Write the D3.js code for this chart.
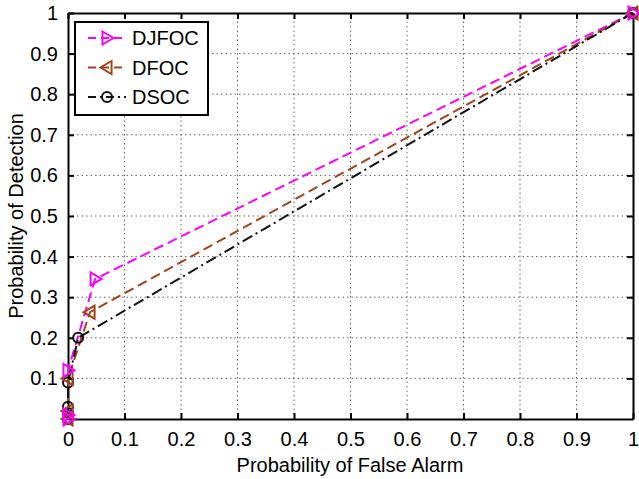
<!DOCTYPE html>
<html><head><meta charset="utf-8">
<script src="https://cdn.jsdelivr.net/npm/d3@7"></script>
<style>body{margin:0;background:#fff}svg{display:block}text{font-family:Arial,"Liberation Sans",sans-serif;fill:#000}</style>
</head><body>
<svg id="c" width="639" height="479"></svg>
<script>
const xTicks = [0,0.1,0.2,0.3,0.4,0.5,0.6,0.7,0.8,0.9,1];
const yTicks = [0.1,0.2,0.3,0.4,0.5,0.6,0.7,0.8,0.9,1];
const xTickLabels = ["0","0.1","0.2","0.3","0.4","0.5","0.6","0.7","0.8","0.9","1"];
const yTickLabels = ["0.1","0.2","0.3","0.4","0.5","0.6","0.7","0.8","0.9","1"];
const seriesNames = ["DJFOC","DFOC","DSOC"];
const djfocPf = [0, 0, 0, 0.048, 1];
const djfocPd = [0, 0.01, 0.12, 0.345, 1];
const dfocPf = [0, 0, 0, 0.039, 1];
const dfocPd = [0, 0.02, 0.1, 0.263, 1];
const dsocPf = [0, 0, 0, 0, 0.018, 1];
const dsocPd = [0, 0.015, 0.03, 0.09, 0.2, 1];

const W=639,H=479, m={l:68,r:6,t:13,b:60};
const svg=d3.select("#c");
const x=d3.scaleLinear().domain([0,1]).range([m.l,W-m.r]);
const y=d3.scaleLinear().domain([0,1]).range([H-m.b,m.t]);
const g=svg.append("g");

// grid
g.selectAll(".gx").data(xTicks.slice(1,-1)).join("line")
 .attr("x1",d=>x(d)).attr("x2",d=>x(d)).attr("y1",y(0)).attr("y2",y(1))
 .attr("stroke","#666").attr("stroke-width",1).attr("stroke-dasharray","1.5,3");
g.selectAll(".gy").data(yTicks.slice(0,-1)).join("line")
 .attr("y1",d=>y(d)).attr("y2",d=>y(d)).attr("x1",x(0)).attr("x2",x(1))
 .attr("stroke","#666").attr("stroke-width",1).attr("stroke-dasharray","1.5,3");

// axes
const fs=20;
const xa=d3.axisBottom(x).tickValues(xTicks).tickFormat((d,i)=>xTickLabels[i]).tickSizeInner(-6).tickSizeOuter(0).tickPadding(13);
const ya=d3.axisLeft(y).tickValues(yTicks).tickFormat((d,i)=>yTickLabels[i]).tickSizeInner(-6).tickSizeOuter(0).tickPadding(10);
const xa2=d3.axisTop(x).tickValues(xTicks).tickFormat("").tickSizeInner(-6).tickSizeOuter(0);
const ya2=d3.axisRight(y).tickValues(yTicks).tickFormat("").tickSizeInner(-6).tickSizeOuter(0);
function style(sel){sel.selectAll("path,line").attr("stroke","#000").attr("stroke-width",2);sel.selectAll("text").attr("font-size",fs).attr("font-family","Arial, 'Liberation Sans', sans-serif");}
g.append("g").attr("transform",`translate(0,${y(0)})`).call(xa).call(style);
g.append("g").attr("transform",`translate(${x(0)},0)`).call(ya).call(style);
g.append("g").attr("transform",`translate(0,${y(1)})`).call(xa2).call(style);
g.append("g").attr("transform",`translate(${x(1)},0)`).call(ya2).call(style);

svg.append("text").attr("x",350).attr("y",472).attr("text-anchor","middle").attr("font-size",fs).text("Probability of False Alarm");
svg.append("text").attr("transform",`translate(23,${(y(0)+y(1))/2}) rotate(-90)`).attr("text-anchor","middle").attr("font-size",fs).text("Probability of Detection");

const series=[
 {pf:djfocPf,pd:djfocPd,color:"#ff00ff",dash:"10,5",marker:"tri-right"},
 {pf:dfocPf,pd:dfocPd,color:"#a0441c",dash:"10,5",marker:"tri-left"},
 {pf:dsocPf,pd:dsocPd,color:"#111",dash:"11,4,2,4",marker:"circle"}
];
function marker(sel,type,color){
 const r=6.5;
 if(type==="circle") sel.append("circle").attr("r",5).attr("fill","none").attr("stroke",color).attr("stroke-width",2);
 else if(type==="tri-right") sel.append("path").attr("d",`M${-r*0.7},${-r}L${r},0L${-r*0.7},${r}Z`).attr("fill","none").attr("stroke",color).attr("stroke-width",2);
 else sel.append("path").attr("d",`M${r*0.7},${-r}L${-r},0L${r*0.7},${r}Z`).attr("fill","none").attr("stroke",color).attr("stroke-width",2);
}
const line=d3.line().x(d=>x(d[0])).y(d=>y(d[1]));
series.forEach(s=>{
 const pts=s.pf.map((v,i)=>[v,s.pd[i]]);
 g.append("path").datum(pts).attr("d",line).attr("fill","none").attr("stroke",s.color).attr("stroke-width",2).attr("stroke-dasharray",s.dash);
});
series.slice().reverse().forEach(s=>{
 s.pf.forEach((v,i)=>{
  const mg=g.append("g").attr("transform",`translate(${x(v)},${y(s.pd[i])})`);
  marker(mg,s.marker,s.color);
 });
});

// legend
const lg=svg.append("g");
lg.append("rect").attr("x",75).attr("y",22).attr("width",133).attr("height",93).attr("fill","#fff").attr("stroke","#000").attr("stroke-width",2);
series.forEach((s,i)=>{
 const yy=38+i*29.5;
 lg.append("line").attr("x1",88).attr("x2",126).attr("y1",yy).attr("y2",yy).attr("stroke",s.color).attr("stroke-width",2).attr("stroke-dasharray",i===2?"8,4,2,4":"8,5");
 const mg=lg.append("g").attr("transform",`translate(107,${yy})`);
 marker(mg,s.marker,s.color);
 lg.append("text").attr("x",132).attr("y",yy+7).attr("font-size",fs).text(seriesNames[i]);
});
</script>
</body></html>
